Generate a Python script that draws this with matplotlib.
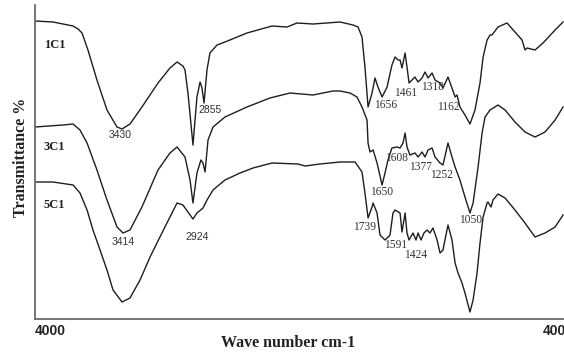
import matplotlib
matplotlib.use("Agg")
import matplotlib.pyplot as plt

# FTIR spectra of the three samples (wavenumber in cm-1, stacked transmittance)
samples = ["1C1", "3C1", "5C1"]

wn_1c1 = [4000, 3878, 3810, 3742, 3708, 3681, 3641, 3580, 3512, 3444, 3410, 3356, 3275,
          3166, 3085, 3037, 2997, 2983, 2963, 2942, 2929, 2915, 2902, 2881, 2868, 2854,
          2834, 2814, 2766, 2712, 2563, 2393, 2291, 2224, 2115, 1932, 1844, 1810, 1783,
          1763, 1742, 1715, 1695, 1675, 1647, 1613, 1580, 1559, 1539, 1525, 1512, 1491,
          1478, 1464, 1444, 1424, 1403, 1376, 1356, 1335, 1308, 1288, 1254, 1234, 1200,
          1173, 1152, 1139, 1119, 1085, 1051, 1017, 983, 962, 935, 915, 902, 861, 800,
          746, 698, 678, 664, 610, 556, 474, 420]
t_1c1 = [298, 297, 295, 293, 290, 286, 269, 239, 209, 192, 190, 195, 212,
         236, 251, 257, 253, 249, 226, 194, 174, 199, 222, 237, 231, 216,
         249, 266, 274, 277, 286, 293, 292, 296, 295, 297, 294, 292, 282,
         252, 212, 226, 241, 232, 222, 232, 254, 262, 259, 259, 251, 266,
         252, 236, 239, 242, 237, 241, 247, 241, 246, 239, 236, 231, 242,
         231, 222, 224, 212, 204, 195, 209, 236, 262, 279, 284, 284, 292, 296,
         287, 279, 269, 271, 269, 276, 289, 297]

wn_3c1 = [4000, 3810, 3742, 3695, 3647, 3580, 3512, 3444, 3403, 3356, 3275, 3166, 3085,
          3037, 2983, 2949, 2929, 2902, 2875, 2861, 2847, 2827, 2793, 2712, 2563, 2407,
          2271, 2115, 1980, 1932, 1864, 1817, 1783, 1749, 1742, 1729, 1708, 1681, 1647,
          1627, 1607, 1580, 1546, 1525, 1505, 1491, 1478, 1458, 1424, 1403, 1376, 1356,
          1335, 1308, 1288, 1254, 1234, 1200, 1173, 1152, 1119, 1085, 1051, 1030, 996,
          969, 949, 915, 861, 813, 746, 678, 610, 542, 474, 420]
t_3c1 = [192, 194, 195, 189, 176, 149, 119, 92, 86, 89, 112, 149, 166,
         172, 162, 139, 116, 146, 159, 156, 147, 179, 192, 202, 212, 221,
         226, 224, 228, 228, 226, 222, 212, 199, 176, 167, 169, 156, 134,
         146, 159, 171, 172, 171, 176, 186, 172, 164, 166, 162, 167, 162,
         169, 171, 162, 156, 154, 176, 162, 152, 139, 122, 106, 116, 152,
         186, 202, 209, 214, 209, 197, 187, 182, 187, 199, 212]

wn_5c1 = [4000, 3878, 3742, 3695, 3647, 3607, 3559, 3512, 3471, 3410, 3356, 3288, 3220,
          3153, 3085, 3037, 2997, 2963, 2929, 2902, 2861, 2834, 2793, 2712, 2610, 2522,
          2393, 2217, 2169, 2068, 1932, 1830, 1783, 1763, 1742, 1715, 1708, 1681, 1661,
          1627, 1593, 1573, 1559, 1525, 1512, 1491, 1478, 1464, 1437, 1417, 1403, 1383,
          1363, 1342, 1322, 1302, 1274, 1254, 1234, 1207, 1200, 1173, 1152, 1132, 1105,
          1085, 1051, 1030, 1003, 983, 962, 935, 929, 908, 895, 861, 813, 746, 678, 610,
          542, 474, 420]
t_5c1 = [137, 137, 134, 126, 109, 89, 69, 49, 29, 17, 21, 39, 62,
         82, 102, 116, 114, 107, 100, 106, 111, 119, 129, 139, 146, 151,
         156, 155, 153, 155, 157, 157, 147, 126, 101, 112, 116, 106, 84,
         79, 84, 106, 109, 106, 87, 106, 86, 79, 86, 79, 86, 79,
         86, 89, 86, 91, 79, 66, 69, 89, 94, 79, 56, 46, 36,
         26, 7, 19, 46, 76, 102, 116, 117, 112, 119, 125, 121, 109, 96, 82,
         86, 92, 104]

fig = plt.figure(figsize=(5.64, 3.56), dpi=100)
ax = fig.add_axes([35 / 564, 37 / 356, 531 / 564, 314 / 356])

line_color = "#1e1e1e"
for wn, t in [(wn_1c1, t_1c1), (wn_3c1, t_3c1), (wn_5c1, t_5c1)]:
    ax.plot(wn, t, color=line_color, lw=1.0)

ax.set_xlim(4000, 400)
ax.set_ylim(0, 314)

for side in ["top", "right"]:
    ax.spines[side].set_visible(False)
for side in ["left", "bottom"]:
    ax.spines[side].set_color("#6a6a6a")
    ax.spines[side].set_linewidth(1.3)
ax.set_xticks([])
ax.set_yticks([])

serif = "Liberation Serif"
sans = "Liberation Sans"

# sample names beside each trace
for name, y in zip(samples, [274, 172, 114]):
    ax.text(3868, y, name, fontsize=9, fontweight="bold", family=serif,
            ha="center", va="center", color="#222222")

# peak annotations
sans_peaks = [("3430", 3424, 184), ("2855", 2814, 209), ("3414", 3403, 77), ("2924", 2902, 82)]
serif_peaks = [("1656", 1620, 214), ("1461", 1485, 226), ("1318", 1302, 232), ("1162", 1200, 212),
               ("1650", 1647, 127), ("1608", 1552, 161), ("1377", 1383, 152), ("1252", 1247, 144),
               ("1050", 1044, 99), ("1739", 1763, 92), ("1591", 1552, 74), ("1424", 1417, 64)]
for txt, x, y in sans_peaks:
    ax.text(x, y, txt, fontsize=7.5, family=sans, ha="center", va="center", color="#333333")
for txt, x, y in serif_peaks:
    ax.text(x, y, txt, fontsize=8.3, family=serif, ha="center", va="center", color="#333333")

# axis end labels and titles
xt = ax.get_xaxis_transform()
ax.text(4000, -0.038, "4000", transform=xt, fontsize=10, fontweight="bold",
        family=sans, ha="left", va="center", color="#222222")
ax.text(400, -0.038, "400", transform=xt, fontsize=10, fontweight="bold",
        family=sans, ha="right", va="center", color="#222222")
fig.text(288 / 564, 1 - 343 / 356, "Wave number cm-1", fontsize=11.5, fontweight="bold",
         family=serif, ha="center", va="center", color="#222222")
fig.text(21 / 564, 1 - 157 / 356, "Transmittance %", fontsize=11.5, fontweight="bold",
         family=serif, rotation=90, ha="center", va="center", color="#222222")

fig.savefig("out.png", dpi=100)
